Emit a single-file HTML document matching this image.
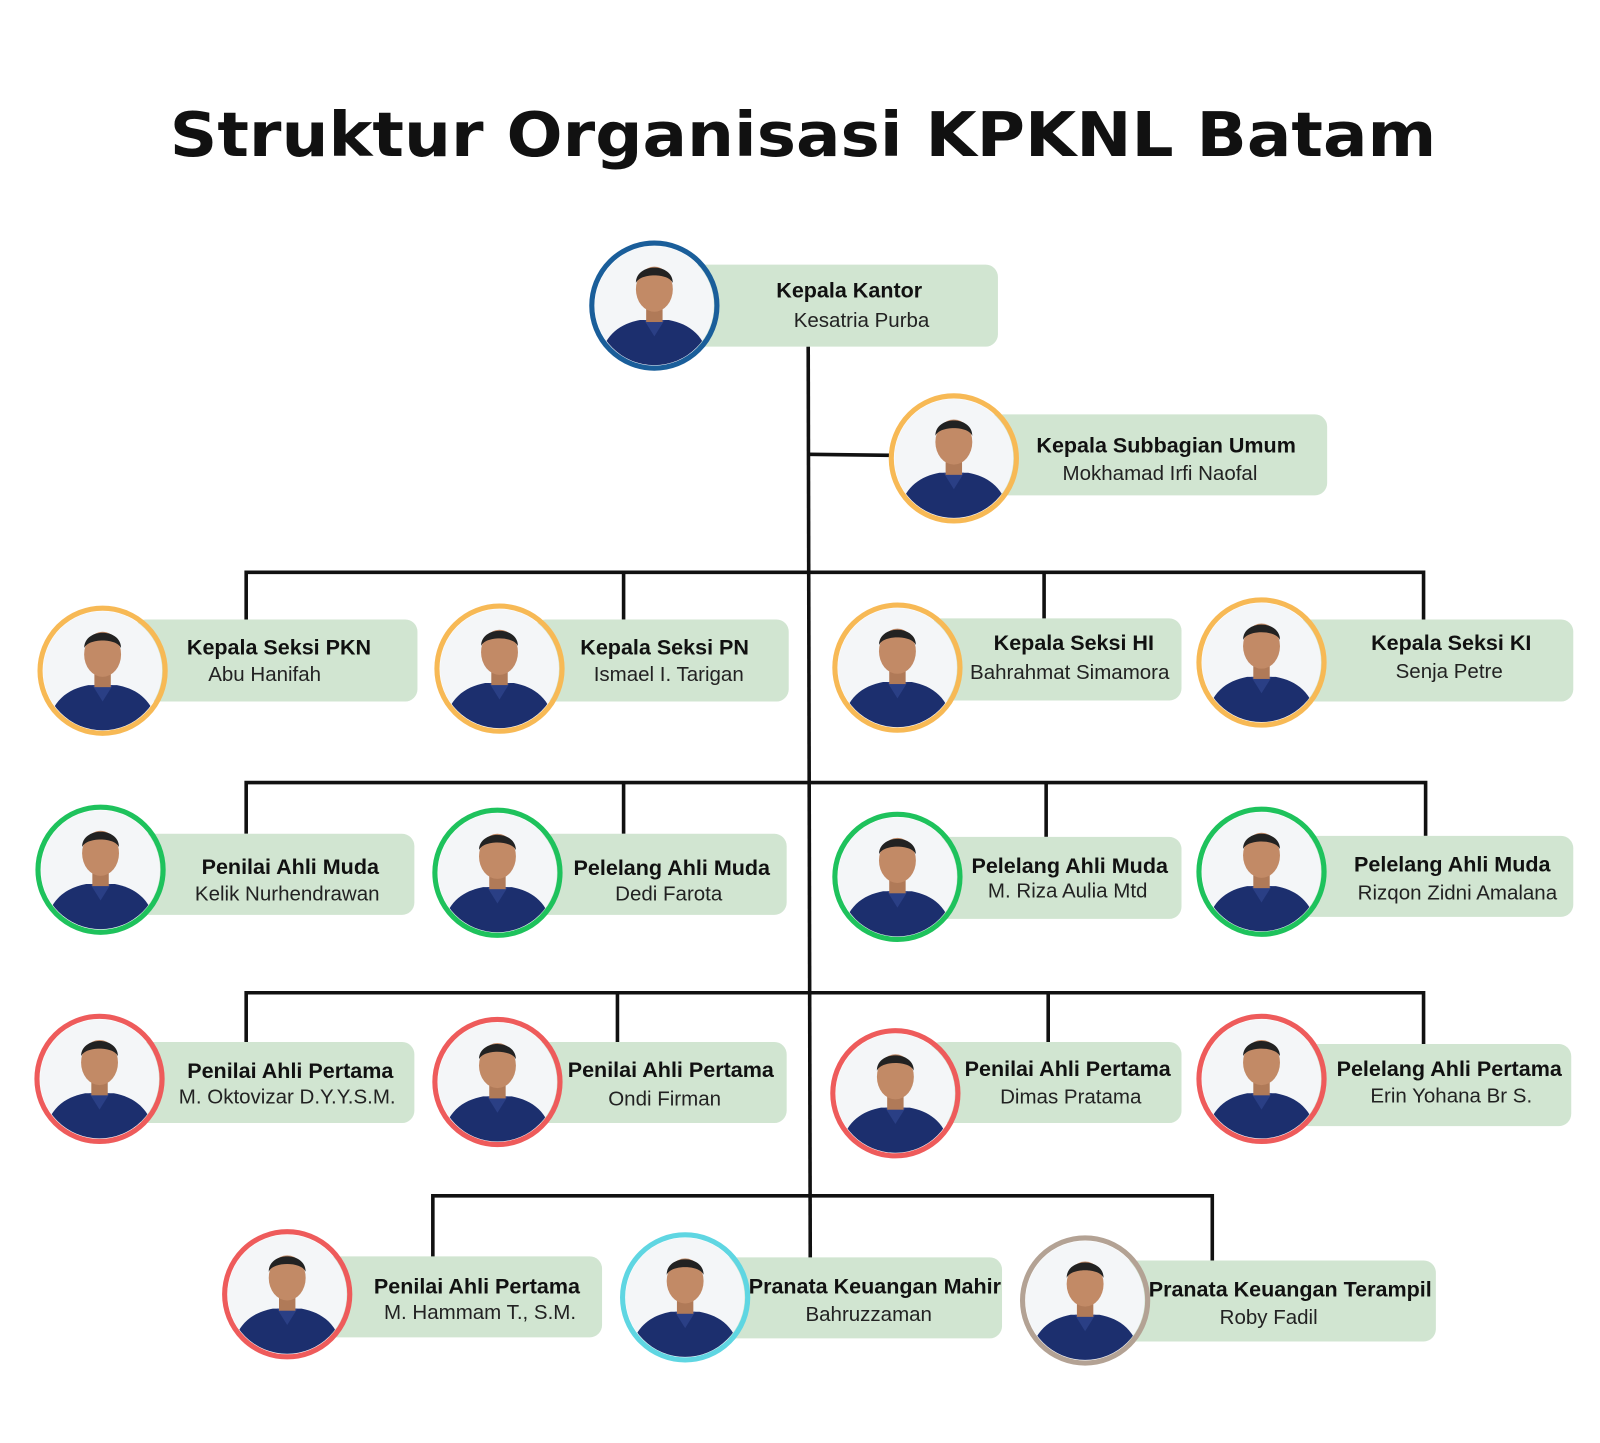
<!DOCTYPE html>
<html><head><meta charset="utf-8"><style>
html,body{margin:0;padding:0;background:#fff;width:1600px;height:1443px;overflow:hidden}
svg{display:block}
.t{font-family:"Liberation Sans",sans-serif;font-weight:bold;font-size:21px;fill:#111;text-anchor:middle}
.n{font-family:"Liberation Sans",sans-serif;font-size:20px;fill:#222;text-anchor:middle}
</style></head><body>
<svg width="1600" height="1443" viewBox="0 0 1560 1407" xmlns="http://www.w3.org/2000/svg">
<defs>
<clipPath id="cc"><circle cx="0" cy="0" r="58"/></clipPath>
<symbol id="p" viewBox="-62 -62 124 124" overflow="visible">
<g clip-path="url(#cc)">
<rect x="-62" y="-62" width="124" height="124" fill="#f4f6f8"/>
<path d="M-55 62 C-52 30 -35 18 -14 14 L14 14 C35 18 52 30 55 62 Z" fill="#1c2f6e"/>
<path d="M-10 14 L0 30 L10 14 Z" fill="#2a3f85"/>
<rect x="-8" y="2" width="16" height="14" fill="#b07a58"/>
<ellipse cx="0" cy="-16" rx="18" ry="22" fill="#c28a66"/>
<path d="M-18 -22 C-18 -42 18 -42 18 -22 C14 -32 -14 -32 -18 -22Z" fill="#222"/>
</g>
</symbol>
</defs>
<text x="783" y="152" font-family="'DejaVu Sans','Liberation Sans',sans-serif" font-weight="bold" font-size="60" text-anchor="middle" fill="#111" textLength="1235" lengthAdjust="spacingAndGlyphs">Struktur Organisasi KPKNL Batam</text>
<g stroke="#111" stroke-width="3.5" fill="none">
<line x1="788" y1="338" x2="790" y2="1228"/>
<line x1="788" y1="443" x2="868" y2="444"/>
<polyline points="240,604 240,558 1388,558 1388,604"/>
<line x1="608" y1="558" x2="608" y2="604"/>
<line x1="1018" y1="558" x2="1018" y2="604"/>
<polyline points="240,813 240,763 1390,763 1390,815"/>
<line x1="608" y1="763" x2="608" y2="813"/>
<line x1="1020" y1="763" x2="1020" y2="816"/>
<polyline points="240,1016 240,968 1388,968 1388,1018"/>
<line x1="602" y1="968" x2="602" y2="1016"/>
<line x1="1022" y1="968" x2="1022" y2="1016"/>
<polyline points="422,1226 422,1166 1182,1166 1182,1229"/>
</g>
<g fill="#d1e5d1">
<rect x="670" y="258" width="303" height="80" rx="12"/>
<rect x="960" y="404" width="334" height="79" rx="12"/>
<rect x="130" y="604" width="277" height="80" rx="12"/>
<rect x="520" y="604" width="249" height="80" rx="12"/>
<rect x="905" y="603" width="247" height="80" rx="12"/>
<rect x="1260" y="604" width="274" height="80" rx="12"/>
<rect x="130" y="813" width="274" height="79" rx="12"/>
<rect x="515" y="813" width="252" height="79" rx="12"/>
<rect x="905" y="816" width="247" height="80" rx="12"/>
<rect x="1260" y="815" width="274" height="79" rx="12"/>
<rect x="130" y="1016" width="274" height="79" rx="12"/>
<rect x="515" y="1016" width="252" height="79" rx="12"/>
<rect x="905" y="1016" width="247" height="79" rx="12"/>
<rect x="1260" y="1018" width="272" height="80" rx="12"/>
<rect x="310" y="1225" width="277" height="79" rx="12"/>
<rect x="700" y="1226" width="277" height="79" rx="12"/>
<rect x="1090" y="1229" width="310" height="79" rx="12"/>
</g>
<g stroke-width="5">
<use href="#p" x="576" y="236" width="124" height="124"/><circle cx="638" cy="298" r="61" fill="none" stroke="#1a5e9a"/>
<use href="#p" x="868" y="385" width="124" height="124"/><circle cx="930" cy="447" r="61" fill="none" stroke="#f7b955"/>
<use href="#p" x="38" y="592" width="124" height="124"/><circle cx="100" cy="654" r="61" fill="none" stroke="#f7b955"/>
<use href="#p" x="425" y="590" width="124" height="124"/><circle cx="487" cy="652" r="61" fill="none" stroke="#f7b955"/>
<use href="#p" x="813" y="589" width="124" height="124"/><circle cx="875" cy="651" r="61" fill="none" stroke="#f7b955"/>
<use href="#p" x="1168" y="584" width="124" height="124"/><circle cx="1230" cy="646" r="61" fill="none" stroke="#f7b955"/>
<use href="#p" x="36" y="786" width="124" height="124"/><circle cx="98" cy="848" r="61" fill="none" stroke="#1ec25c"/>
<use href="#p" x="423" y="789" width="124" height="124"/><circle cx="485" cy="851" r="61" fill="none" stroke="#1ec25c"/>
<use href="#p" x="813" y="793" width="124" height="124"/><circle cx="875" cy="855" r="61" fill="none" stroke="#1ec25c"/>
<use href="#p" x="1168" y="788" width="124" height="124"/><circle cx="1230" cy="850" r="61" fill="none" stroke="#1ec25c"/>
<use href="#p" x="35" y="990" width="124" height="124"/><circle cx="97" cy="1052" r="61" fill="none" stroke="#ee5b5b"/>
<use href="#p" x="423" y="993" width="124" height="124"/><circle cx="485" cy="1055" r="61" fill="none" stroke="#ee5b5b"/>
<use href="#p" x="811" y="1004" width="124" height="124"/><circle cx="873" cy="1066" r="61" fill="none" stroke="#ee5b5b"/>
<use href="#p" x="1168" y="990" width="124" height="124"/><circle cx="1230" cy="1052" r="61" fill="none" stroke="#ee5b5b"/>
<use href="#p" x="218" y="1200" width="124" height="124"/><circle cx="280" cy="1262" r="61" fill="none" stroke="#ee5b5b"/>
<use href="#p" x="606" y="1203" width="124" height="124"/><circle cx="668" cy="1265" r="61" fill="none" stroke="#5fd6e2"/>
<use href="#p" x="996" y="1206" width="124" height="124"/><circle cx="1058" cy="1268" r="61" fill="none" stroke="#b3a294"/>
</g>
<text class="t" x="828" y="290">Kepala Kantor</text><text class="n" x="840" y="319">Kesatria Purba</text>
<text class="t" x="1137" y="441">Kepala Subbagian Umum</text><text class="n" x="1131" y="468">Mokhamad Irfi Naofal</text>
<text class="t" x="272" y="638">Kepala Seksi PKN</text><text class="n" x="258" y="664">Abu Hanifah</text>
<text class="t" x="648" y="638">Kepala Seksi PN</text><text class="n" x="652" y="664">Ismael I. Tarigan</text>
<text class="t" x="1047" y="634">Kepala Seksi HI</text><text class="n" x="1043" y="662">Bahrahmat Simamora</text>
<text class="t" x="1415" y="634">Kepala Seksi KI</text><text class="n" x="1413" y="661">Senja Petre</text>
<text class="t" x="283" y="852">Penilai Ahli Muda</text><text class="n" x="280" y="878">Kelik Nurhendrawan</text>
<text class="t" x="655" y="853">Pelelang Ahli Muda</text><text class="n" x="652" y="878">Dedi Farota</text>
<text class="t" x="1043" y="851">Pelelang Ahli Muda</text><text class="n" x="1041" y="875">M. Riza Aulia Mtd</text>
<text class="t" x="1416" y="850">Pelelang Ahli Muda</text><text class="n" x="1421" y="877">Rizqon Zidni Amalana</text>
<text class="t" x="283" y="1051">Penilai Ahli Pertama</text><text class="n" x="280" y="1076">M. Oktovizar D.Y.Y.S.M.</text>
<text class="t" x="654" y="1050">Penilai Ahli Pertama</text><text class="n" x="648" y="1078">Ondi Firman</text>
<text class="t" x="1041" y="1049">Penilai Ahli Pertama</text><text class="n" x="1044" y="1076">Dimas Pratama</text>
<text class="t" x="1413" y="1049">Pelelang Ahli Pertama</text><text class="n" x="1415" y="1075">Erin Yohana Br S.</text>
<text class="t" x="465" y="1261">Penilai Ahli Pertama</text><text class="n" x="468" y="1286">M. Hammam T., S.M.</text>
<text class="t" x="853" y="1261">Pranata Keuangan Mahir</text><text class="n" x="847" y="1288">Bahruzzaman</text>
<text class="t" x="1258" y="1264">Pranata Keuangan Terampil</text><text class="n" x="1237" y="1291">Roby Fadil</text>
</svg>
</body></html>
